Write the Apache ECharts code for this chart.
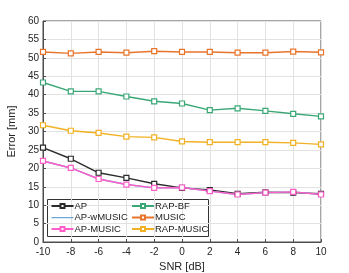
<!DOCTYPE html>
<html><head><meta charset="utf-8">
<script src="https://cdn.jsdelivr.net/npm/echarts@6/dist/echarts.min.js"></script>
<style>html,body{margin:0;padding:0;background:#fff}#c{width:349px;height:273px}</style>
</head><body><div id="c"></div>
<script>
const snr = [-10,-8,-6,-4,-2,0,2,4,6,8,10];
const yTicks = [0,5,10,15,20,25,30,35,40,45,50,55,60];
const AP        = [25.6,22.6,18.8,17.4,15.8,14.7,14.1,13.1,13.5,13.4,13.1];
const AP_wMUSIC = [22.0,20.1,17.1,15.6,14.7,14.8,13.8,12.9,13.4,13.6,12.9];
const AP_MUSIC  = [22.0,20.1,17.1,15.6,14.7,14.8,13.8,12.9,13.4,13.6,12.9];
const RAP_BF    = [43.3,40.9,40.9,39.5,38.2,37.6,35.8,36.3,35.6,34.8,34.1];
const MUSIC     = [51.6,51.2,51.6,51.4,51.8,51.6,51.6,51.4,51.4,51.7,51.5];
const RAP_MUSIC = [31.7,30.2,29.6,28.6,28.4,27.3,27.1,27.1,27.1,26.9,26.5];

const names = ['AP','AP-wMUSIC','AP-MUSIC','RAP-BF','MUSIC','RAP-MUSIC'];
const datas = [AP,AP_wMUSIC,AP_MUSIC,RAP_BF,MUSIC,RAP_MUSIC];
const colors = ['#2b2b2b','#6fa8dc','#ff5ec8','#3aa876','#e8742a','#f2b124'];
const markers = [true,false,true,true,true,true];

const chart = echarts.init(document.getElementById('c'), null, {renderer:'canvas'});
const font = 'Liberation Sans, Arial, sans-serif';
const series = names.map((n,i)=>({
  name:n, type:'line', data: snr.map((x,j)=>[x,datas[i][j]]),
  symbol: markers[i] ? 'rect' : 'none', symbolSize:5,
  showSymbol: markers[i],
  lineStyle:{color:colors[i], width:1.4},
  itemStyle:{color:'#ffffff', borderColor:colors[i], borderWidth:1.2},
  emphasis:{disabled:true}, animation:false
}));
const legendCommon = {
  orient:'vertical', itemWidth:22, itemHeight:5, itemGap:1.5, padding:0, z:20,
  textStyle:{fontFamily:font, fontSize:9.5, color:'#222', padding:[0,0,0,-4]},
  selectedMode:false
};
const axisCommon = {
  axisLine:{show:true, onZero:false, lineStyle:{color:'#4d4d4d'}},
  axisTick:{show:true, inside:true, length:3, lineStyle:{color:'#4d4d4d'}},
  splitLine:{show:true, lineStyle:{color:'#e2e2e2', width:1}}
};
chart.setOption({
  animation:false,
  grid:{left:43, right:28, top:21, bottom:31, show:true, borderColor:'#4d4d4d', borderWidth:1, backgroundColor:'transparent',
        containLabel:false, outerBoundsMode:'none'},
  xAxis:Object.assign({type:'value', min:-10, max:10, interval:2,
    name:'SNR [dB]', nameLocation:'middle', nameGap:19,
    nameTextStyle:{fontFamily:font, fontSize:11, color:'#262626'},
    axisLabel:{fontFamily:font, fontSize:10, color:'#262626', margin:5}}, axisCommon),
  yAxis:Object.assign({type:'value', min:0, max:60, interval:5,
    name:'Error [mm]', nameLocation:'middle', nameGap:21, nameRotate:90,
    nameTextStyle:{fontFamily:font, fontSize:11, color:'#262626'},
    axisLabel:{fontFamily:font, fontSize:10, color:'#262626', margin:4}}, axisCommon),
  legend:[
    Object.assign({left:50.5, top:201, data:['AP',
      {name:'AP-wMUSIC', icon:'path://M0,0L0.01,0L0.01,0.01ZM0,2L22,2L22,3.2L0,3.2ZM22,5L21.99,5L21.99,4.99Z', itemStyle:{color:'#6fa8dc', borderWidth:0}},
      'AP-MUSIC']}, legendCommon),
    Object.assign({left:131, top:201, data:['RAP-BF','MUSIC','RAP-MUSIC']}, legendCommon)
  ],
  graphic:{z:10, elements:[{type:'rect', shape:{x:47.5, y:199.5, width:161, height:37}, style:{fill:'#fff', stroke:'#333', lineWidth:1}}]},
  series: series
});
</script></body></html>
